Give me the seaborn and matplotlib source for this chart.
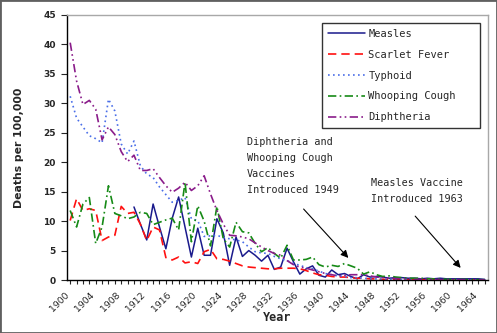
import numpy as np
import pandas as pd
import matplotlib
matplotlib.use("Agg")
import matplotlib.pyplot as plt
import matplotlib.transforms as mtransforms
from matplotlib.patches import Rectangle
import seaborn as sns

# Annual death rates per 100,000 population, 1900-1965
years = list(range(1900, 1966))

measles_years = list(range(1910, 1966))
measles = [
    12.4, 9.5, 6.8, 12.9, 9.0, 5.3, 10.5, 14.1, 9.0, 3.9,   # 1910s
    8.8, 4.2, 4.2, 10.4, 8.0, 2.5, 7.3, 4.0, 5.0, 4.2,      # 1920s
    3.2, 4.2, 1.8, 2.2, 5.4, 3.1, 1.0, 1.9, 2.4, 0.8,       # 1930s
    0.5, 1.7, 0.9, 1.1, 0.6, 0.2, 0.9, 0.5, 0.6, 0.5,       # 1940s
    0.3, 0.4, 0.4, 0.3, 0.3, 0.2, 0.3, 0.2, 0.3, 0.2,       # 1950s
    0.2, 0.2, 0.2, 0.2, 0.2, 0.1,                           # 1960s
]

scarlet_fever = [
    10.1, 13.8, 11.8, 12.1, 11.8, 6.7, 7.3, 7.6, 12.5, 11.3,   # 1900s
    11.5, 9.5, 6.7, 9.0, 8.5, 3.8, 3.4, 3.9, 2.9, 3.1,        # 1910s
    2.8, 4.8, 5.2, 3.6, 3.5, 3.2, 2.8, 2.4, 2.2, 2.1,         # 1920s
    2.0, 1.9, 1.9, 2.0, 2.0, 2.0, 1.9, 1.6, 1.2, 0.9,         # 1930s
    0.8, 0.6, 0.5, 0.5, 0.4, 0.3, 0.3, 0.2, 0.2, 0.1,         # 1940s
    0.1, 0.1, 0.1, 0.05, 0.05, 0.05, 0.05, 0.03, 0.03, 0.03,  # 1950s
    0.02, 0.02, 0.02, 0.02, 0.02, 0.02,                       # 1960s
]

typhoid = [
    31.2, 27.5, 26.0, 24.5, 24.0, 23.3, 30.7, 28.7, 23.1, 21.4,  # 1900s
    23.6, 19.4, 18.0, 17.4, 15.8, 14.5, 13.2, 13.5, 14.0, 10.4,  # 1910s
    10.1, 7.4, 7.5, 7.6, 7.2, 7.0, 6.8, 6.5, 5.6, 4.8,          # 1920s
    4.6, 4.5, 4.0, 3.6, 3.3, 2.8, 2.5, 2.1, 1.9, 1.5,           # 1930s
    1.1, 0.9, 0.7, 0.6, 0.4, 0.4, 0.3, 0.2, 0.2, 0.1,           # 1940s
    0.1, 0.1, 0.1, 0.05, 0.05, 0.05, 0.05, 0.03, 0.03, 0.03,    # 1950s
    0.02, 0.02, 0.02, 0.02, 0.02, 0.02,                         # 1960s
]

whooping_cough = [
    11.8, 9.0, 12.9, 14.0, 6.2, 9.0, 16.0, 11.3, 10.9, 10.4,   # 1900s
    10.7, 11.5, 11.3, 9.4, 9.8, 10.2, 10.5, 8.5, 16.6, 6.5,    # 1910s
    12.6, 10.0, 5.8, 12.5, 7.0, 5.6, 9.8, 8.2, 8.0, 6.2,       # 1920s
    4.8, 5.5, 4.5, 3.7, 5.9, 3.4, 3.4, 3.5, 3.9, 2.6,          # 1930s
    2.2, 2.5, 2.3, 2.8, 2.4, 2.0, 1.0, 1.4, 0.9, 0.6,          # 1940s
    0.7, 0.5, 0.4, 0.3, 0.3, 0.3, 0.2, 0.2, 0.15, 0.1,         # 1950s
    0.1, 0.1, 0.08, 0.08, 0.05, 0.05,                          # 1960s
]

diphtheria = [
    40.3, 33.8, 29.8, 30.5, 29.0, 23.8, 26.0, 24.7, 21.8, 20.1,  # 1900s
    21.2, 18.6, 18.6, 18.9, 17.4, 16.0, 14.9, 15.6, 16.6, 15.2,  # 1910s
    16.0, 17.7, 14.6, 11.8, 9.5, 7.6, 7.5, 7.3, 7.0, 6.3,       # 1920s
    5.6, 5.0, 4.5, 4.2, 3.3, 2.6, 2.2, 2.0, 1.7, 1.4,           # 1930s
    1.1, 0.9, 0.7, 0.8, 0.9, 0.9, 0.9, 0.7, 0.5, 0.4,           # 1940s
    0.3, 0.25, 0.2, 0.15, 0.1, 0.1, 0.1, 0.1, 0.05, 0.05,       # 1950s
    0.05, 0.05, 0.05, 0.02, 0.02, 0.02,                         # 1960s
]

series_names = ["Measles", "Scarlet Fever", "Typhoid", "Whooping Cough", "Diphtheria"]
tick_years = list(range(1900, 1966, 4))

sns.set_theme(style="white")
plt.rcParams["font.family"] = ["DejaVu Sans"]
MONO = ["DejaVu Sans Mono"]

fig = plt.figure(figsize=(4.97, 3.33), dpi=100)
ax = fig.add_axes([67 / 497, 53 / 333, 421 / 497, 265 / 333])

styles = {
    "Measles": dict(color="#1a1a8c", dashes=None, lw=1.1),
    "Scarlet Fever": dict(color="#ff1010", dashes=(5, 3), lw=1.2),
    "Typhoid": dict(color="#4a6ee8", dashes=(1, 2), lw=1.2),
    "Whooping Cough": dict(color="#168a16", dashes=(5, 2, 1, 2), lw=1.2),
    "Diphtheria": dict(color="#8a1c8a", dashes=(5, 2, 1, 2, 1, 2), lw=1.2),
}

data = {
    "Measles": (measles_years, measles),
    "Scarlet Fever": (years, scarlet_fever),
    "Typhoid": (years, typhoid),
    "Whooping Cough": (years, whooping_cough),
    "Diphtheria": (years, diphtheria),
}

for name in series_names:
    xs, ys = data[name]
    st = styles[name]
    df = pd.DataFrame({"Year": xs, "Rate": ys})
    sns.lineplot(data=df, x="Year", y="Rate", ax=ax, color=st["color"],
                 lw=st["lw"], label=name, estimator=None)
    line = ax.lines[-1]
    if st["dashes"] is not None:
        line.set_dashes(st["dashes"])

ax.set_xlim(1899.5, 1965.5)
ax.set_ylim(0, 45)
ax.set_yticks(range(0, 46, 5))
ax.set_xticks(tick_years)
ax.set_xticks(years, minor=True)
ax.set_xticklabels([str(y) for y in tick_years], rotation=45, ha="right",
                   rotation_mode="anchor", fontsize=6.7)
ax.tick_params(axis="y", labelsize=6.5, length=4, width=0.8, direction="out",
               left=True, pad=4)
ax.tick_params(axis="x", which="both", length=3, width=0.8, direction="out",
               bottom=True, pad=4)
for lab in ax.get_yticklabels():
    lab.set_fontweight("bold")

# rotated year labels sit a little to the left of their ticks
shift = mtransforms.ScaledTranslation(-0.06, -0.01, fig.dpi_scale_trans)
for lab in ax.get_xticklabels():
    lab.set_transform(lab.get_transform() + shift)

ax.set_xlabel("Year", fontsize=8.5, fontweight="bold", family=MONO)
ax.xaxis.set_label_coords(0.5, -0.118)
ax.set_ylabel("Deaths per 100,000", fontsize=7.8, fontweight="bold", labelpad=14)

for side in ("left", "bottom"):
    ax.spines[side].set_color("black")
    ax.spines[side].set_linewidth(1.0)
for side in ("top", "right"):
    ax.spines[side].set_color("#a8a8a8")
    ax.spines[side].set_linewidth(1.0)

leg = ax.legend(loc="upper left", bbox_to_anchor=(0.606, 0.562, 0.375, 0.408),
                mode="expand", borderaxespad=0, fancybox=False, frameon=True,
                prop={"family": MONO, "size": 7.5},
                handlelength=3.6, labelspacing=1.05, handletextpad=0.3,
                borderpad=0.55)
leg.get_frame().set_edgecolor("black")
leg.get_frame().set_linewidth(1.0)

ax.text(1927.7, 19.3, "Diphtheria and\nWhooping Cough\nVaccines\nIntroduced 1949",
        fontsize=7.3, family=MONO, va="center", ha="left", linespacing=1.75)
ax.text(1947.2, 15.1, "Measles Vaccine\nIntroduced 1963",
        fontsize=7.3, family=MONO, va="center", ha="left", linespacing=1.75)

arrow = dict(arrowstyle="-|>", color="black", lw=0.8, mutation_scale=11)
ax.annotate("", xy=(1943.9, 3.4), xytext=(1936.3, 12.4), arrowprops=arrow)
ax.annotate("", xy=(1961.5, 1.7), xytext=(1953.8, 11.2), arrowprops=arrow)

fig.patches.append(Rectangle((0, 0), 1, 1, transform=fig.transFigure,
                             fill=False, edgecolor="#606060", lw=2.0))

fig.savefig("out.png", dpi=100)
